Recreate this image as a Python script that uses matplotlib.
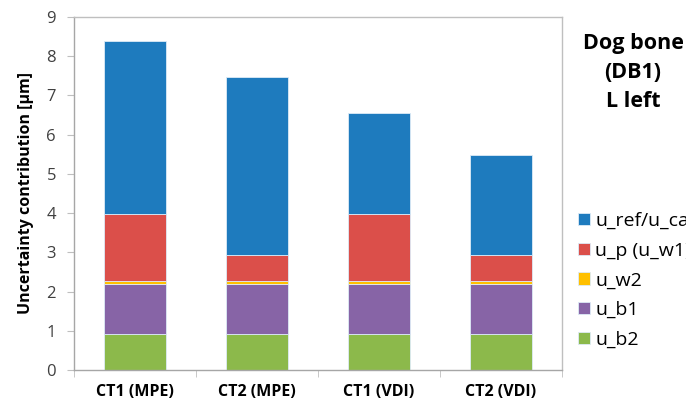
import numpy as np
import matplotlib
matplotlib.use("Agg")
import matplotlib.pyplot as plt

plt.rcParams['font.family'] = ['Open Sans', 'DejaVu Sans']

# data
categories = ['CT1 (MPE)', 'CT2 (MPE)', 'CT1 (VDI)', 'CT2 (VDI)']
u_b2 = [0.93, 0.93, 0.93, 0.93]
u_b1 = [1.27, 1.27, 1.27, 1.27]
u_w2 = [0.08, 0.08, 0.08, 0.08]
u_p = [1.70, 0.64, 1.70, 0.64]
u_ref = [4.40, 4.54, 2.58, 2.57]

series = [
    ('u_b2', u_b2, '#8CB94B'),
    ('u_b1', u_b1, '#8764A6'),
    ('u_w2', u_w2, '#FFC000'),
    ('u_p (u_w1)', u_p, '#DB4F4A'),
    ('u_ref/u_cal', u_ref, '#1E7BBE'),
]

fig = plt.figure(figsize=(6.86, 4.03), dpi=100)
ax = fig.add_axes([74/686, 33/403, (562-74)/686, (370-17)/403])

x = np.arange(len(categories))
bottom = np.zeros(len(categories))
handles = []
for name, vals, col in series:
    b = ax.bar(x, vals, width=0.51, bottom=bottom, color=col,
               edgecolor='#DDEBF7', linewidth=0.6, label=name)
    handles.append(b)
    bottom += np.array(vals)

ax.set_xlim(-0.5, 3.5)
ax.set_ylim(0, 9)
ax.set_yticks(range(10))
ax.set_xticks(x)
ax.set_xticklabels(categories, fontsize=11.5, fontweight='bold')
ax.set_xticks(np.arange(-0.5, 4.0, 1.0), minor=True)
ax.tick_params(axis='x', which='major', length=0, pad=10)
ax.tick_params(axis='x', which='minor', length=5, color='#BFBFBF')
ax.tick_params(axis='y', length=5, color='#BFBFBF', labelsize=12,
               labelcolor='#404040', pad=8)
for s in ax.spines.values():
    s.set_color('#BFBFBF')
    s.set_linewidth(1.0)
ax.spines['left'].set_color('#A6A6A6')
ax.spines['bottom'].set_color('#A6A6A6')

ax.set_ylabel('Uncertainty contribution [µm]', fontsize=11.5,
              fontweight='bold', labelpad=9)

fig.text(633/686, 1 - 33/403, 'Dog bone\n(DB1)\nL left', fontsize=15.5,
         fontweight='bold', ha='center', va='top', linespacing=1.5)

leg = fig.legend(handles[::-1], [s[0] for s in series][::-1],
                 loc='upper left', bbox_to_anchor=(578/686, 1 - 212/403),
                 frameon=False, fontsize=14, handlelength=0.61,
                 handleheight=0.61, handletextpad=0.28, labelspacing=0.6,
                 borderaxespad=0, borderpad=0)

fig.savefig('out.png', dpi=100)
